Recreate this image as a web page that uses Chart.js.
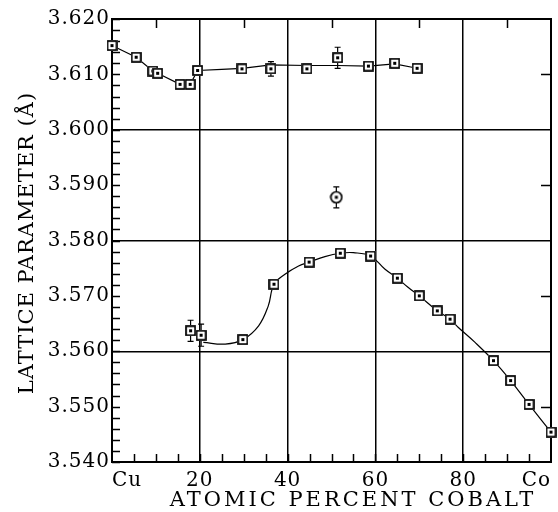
<!DOCTYPE html>
<html><head><meta charset="utf-8">
<script src="https://cdn.jsdelivr.net/npm/chart.js@4/dist/chart.umd.min.js"></script>
<style>html,body{margin:0;padding:0;background:#fff}</style>
</head><body>
<canvas id="c" width="558" height="512"></canvas>
<script>
// ---- data ----
const upperX   = [0, 5.5, 9.3, 10.4, 15.5, 17.8, 19.5, 29.6, 36.2, 44.4, 51.4, 58.4, 64.4, 69.5];
const upperY   = [3.6152, 3.6131, 3.6106, 3.6102, 3.6082, 3.6082, 3.6107, 3.6110, 3.6110, 3.6110, 3.6130, 3.6115, 3.6120, 3.6111];
const upperErr = [0, 0, 0, 0, 0, 0, 0, 0, 0.0013, 0, 0.0019, 0, 0, 0];

const lowerX   = [17.9, 20.3, 29.8, 36.9, 44.9, 52.0, 58.9, 65.0, 70.0, 74.1, 77.0, 86.9, 90.8, 95.0, 100];
const lowerY   = [3.5637, 3.5629, 3.5621, 3.5721, 3.5761, 3.5777, 3.5772, 3.5732, 3.5700, 3.5673, 3.5658, 3.5583, 3.5547, 3.5504, 3.5454];
const lowerErr = [0.0019, 0.0020, 0, 0, 0, 0, 0, 0, 0, 0, 0, 0, 0, 0, 0];

const isoX   = [51.1];
const isoY   = [3.5878];
const isoErr = [0.0019];

const upperFitX = [0, 5.5, 9.3, 10.4, 15.5, 17.8, 19.5, 25, 29.6, 36.2, 44.4, 51.4, 58.4, 64.4, 69.5];
const upperFitY = [3.6152, 3.6131, 3.6106, 3.6102, 3.6082, 3.6082, 3.6107, 3.6109, 3.6111, 3.6117, 3.6116, 3.6116, 3.6115, 3.6119, 3.6111];

const lowerFitX = [20.8, 25.8, 29.8, 33.4, 35.6, 36.9, 39.4, 42.5, 44.9, 48.5, 52.0, 55.0, 58.9, 62.2, 65.0, 67.5, 70.0, 74.1, 77.0, 78.9, 82.7, 86.9, 90.8, 95.0, 100];
const lowerFitY = [3.5616, 3.5613, 3.5621, 3.5646, 3.5682, 3.5721, 3.5739, 3.5754, 3.5761, 3.5771, 3.5777, 3.5778, 3.5772, 3.5748, 3.5732, 3.5715, 3.5700, 3.5673, 3.5658, 3.5643, 3.5616, 3.5583, 3.5547, 3.5504, 3.5454];

const xTickValues = [0, 20, 40, 60, 80, 100];
const xTickLabels = ['Cu', '20', '40', '60', '80', 'Co'];
const yGridValues = [3.600, 3.580, 3.560];
const yRightTicks = [3.610, 3.590, 3.570, 3.550];
const xTopTicks   = [10, 30, 50, 70, 90];
const xTitle = 'ATOMIC PERCENT COBALT';
const yTitle = 'LATTICE PARAMETER (Å)';

// ---- marker images ----
function squareMarker(){
  const c = document.createElement('canvas'); c.width = 11; c.height = 11;
  const g = c.getContext('2d');
  g.fillStyle = '#fff'; g.fillRect(0,0,11,11);
  g.strokeStyle = '#000'; g.lineWidth = 1.7; g.strokeRect(1,1,9,9);
  g.fillStyle = '#000'; g.fillRect(4,4,3,3);
  return c;
}
function circleMarker(){
  const c = document.createElement('canvas'); c.width = 14; c.height = 14;
  const g = c.getContext('2d');
  g.fillStyle = '#fff'; g.beginPath(); g.arc(7,7,6,0,Math.PI*2); g.fill();
  g.strokeStyle = '#000'; g.lineWidth = 1.7; g.beginPath(); g.arc(7,7,5.5,0,Math.PI*2); g.stroke();
  g.fillStyle = '#000'; g.fillRect(5.5,5.5,3,3);
  return c;
}
const sqImg = squareMarker();
const ciImg = circleMarker();

const pts = (xs, ys) => xs.map((x, i) => ({x, y: ys[i]}));

Chart.defaults.font.family = 'DejaVu Serif';
Chart.defaults.color = '#000';

const near = (a, b) => Math.abs(a - b) < 1e-6;

const decorPlugin = {
  id: 'decor',
  beforeDatasetsDraw(chart){
    const {ctx, chartArea: a, scales: {x, y}} = chart;
    ctx.save();
    ctx.strokeStyle = '#000';
    ctx.lineWidth = 1.5;
    ctx.beginPath();
    for (let k = 0; k <= 40; k++){
      const py = Math.round(y.getPixelForValue(3.540 + k*0.002)) + 0.5;
      ctx.moveTo(a.left, py); ctx.lineTo(a.left + 8, py);
    }
    yRightTicks.forEach(v => { const py = Math.round(y.getPixelForValue(v)) + 0.5; ctx.moveTo(a.right - 10, py); ctx.lineTo(a.right, py); });
    for (let k = 1; k < 20; k++){
      const px = Math.round(x.getPixelForValue(k*5)) + 0.5;
      ctx.moveTo(px, a.bottom); ctx.lineTo(px, a.bottom - 8);
    }
    xTopTicks.forEach(v => { const px = Math.round(x.getPixelForValue(v)) + 0.5; ctx.moveTo(px, a.top); ctx.lineTo(px, a.top + 9); });
    ctx.stroke();
    ctx.lineWidth = 2;
    ctx.strokeRect(a.left, a.top, a.right - a.left, a.bottom - a.top);
    ctx.lineWidth = 1.2;
    const drawErr = (xs, ys, es) => {
      xs.forEach((xv, i) => {
        const e = es[i]; if (!e) return;
        const px = x.getPixelForValue(xv);
        const p1 = y.getPixelForValue(ys[i] + e), p2 = y.getPixelForValue(ys[i] - e);
        ctx.beginPath();
        ctx.moveTo(px, p1); ctx.lineTo(px, p2);
        ctx.moveTo(px - 3, p1); ctx.lineTo(px + 3, p1);
        ctx.moveTo(px - 3, p2); ctx.lineTo(px + 3, p2);
        ctx.stroke();
      });
    };
    drawErr(upperX, upperY, upperErr);
    drawErr(lowerX, lowerY, lowerErr);
    drawErr(isoX, isoY, isoErr);
    ctx.restore();
  },
  beforeDraw(chart){ chart.ctx.letterSpacing = '1px'; },
  afterDraw(chart){
    const {ctx} = chart;
    ctx.save();
    ctx.fillStyle = '#000';
    ctx.font = '21px "DejaVu Serif"';
    ctx.letterSpacing = '3px';
    ctx.textAlign = 'center'; ctx.textBaseline = 'middle';
    ctx.fillText(xTitle, 353, 501);
    ctx.translate(28, 243);
    ctx.rotate(-Math.PI/2);
    ctx.letterSpacing = '1px';
    ctx.font = '21px "DejaVu Serif"';
    ctx.fillText(yTitle, 0, 0);
    ctx.restore();
    ctx.letterSpacing = '0px';
  }
};

new Chart(document.getElementById('c'), {
  type: 'scatter',
  data: {
    datasets: [
      { data: pts(upperFitX, upperFitY), showLine: true, borderColor: '#000', borderWidth: 1.2, pointRadius: 0, tension: 0, order: 2, clip: false },
      { data: pts(lowerFitX, lowerFitY), showLine: true, borderColor: '#000', borderWidth: 1.2, pointRadius: 0, tension: 0.4, order: 2, clip: false },
      { data: pts(upperX, upperY), showLine: false, pointStyle: sqImg, order: 0, clip: false },
      { data: pts(lowerX, lowerY), showLine: false, pointStyle: sqImg, order: 0, clip: false },
      { data: pts(isoX, isoY), showLine: false, pointStyle: ciImg, order: 0, clip: false }
    ]
  },
  options: {
    responsive: false,
    animation: false,
    devicePixelRatio: 1,
    layout: { padding: { top: 19, right: 6, left: 0, bottom: 0 } },
    plugins: { legend: { display: false }, tooltip: { enabled: false } },
    scales: {
      x: {
        type: 'linear', min: 0, max: 100,
        afterFit(s){ s.height = 50; },
        afterBuildTicks(s){ s.ticks = xTickValues.map(v => ({value: v})); },
        ticks: {
          font: { size: 20 }, padding: 7, align: 'inner', maxRotation: 0, autoSkip: false,
          callback: (v) => { const i = xTickValues.indexOf(v); return i >= 0 ? xTickLabels[i] : ''; }
        },
        grid: {
          drawTicks: false,
          lineWidth: 1.5,
          color: (c) => (c.tick && c.tick.value > 0 && c.tick.value < 100) ? '#000' : 'rgba(0,0,0,0)'
        },
        border: { display: false }
      },
      y: {
        type: 'linear', min: 3.540, max: 3.620,
        afterFit(s){ s.width = 112; },
        ticks: {
          stepSize: 0.01, font: { size: 20 }, padding: 2, autoSkip: false,
          callback: (v) => v.toFixed(3)
        },
        grid: {
          drawTicks: false,
          lineWidth: 1.5,
          color: (c) => (c.tick && yGridValues.some(g => near(g, c.tick.value))) ? '#000' : 'rgba(0,0,0,0)'
        },
        border: { display: false }
      }
    }
  },
  plugins: [decorPlugin]
});
</script>
</body></html>
